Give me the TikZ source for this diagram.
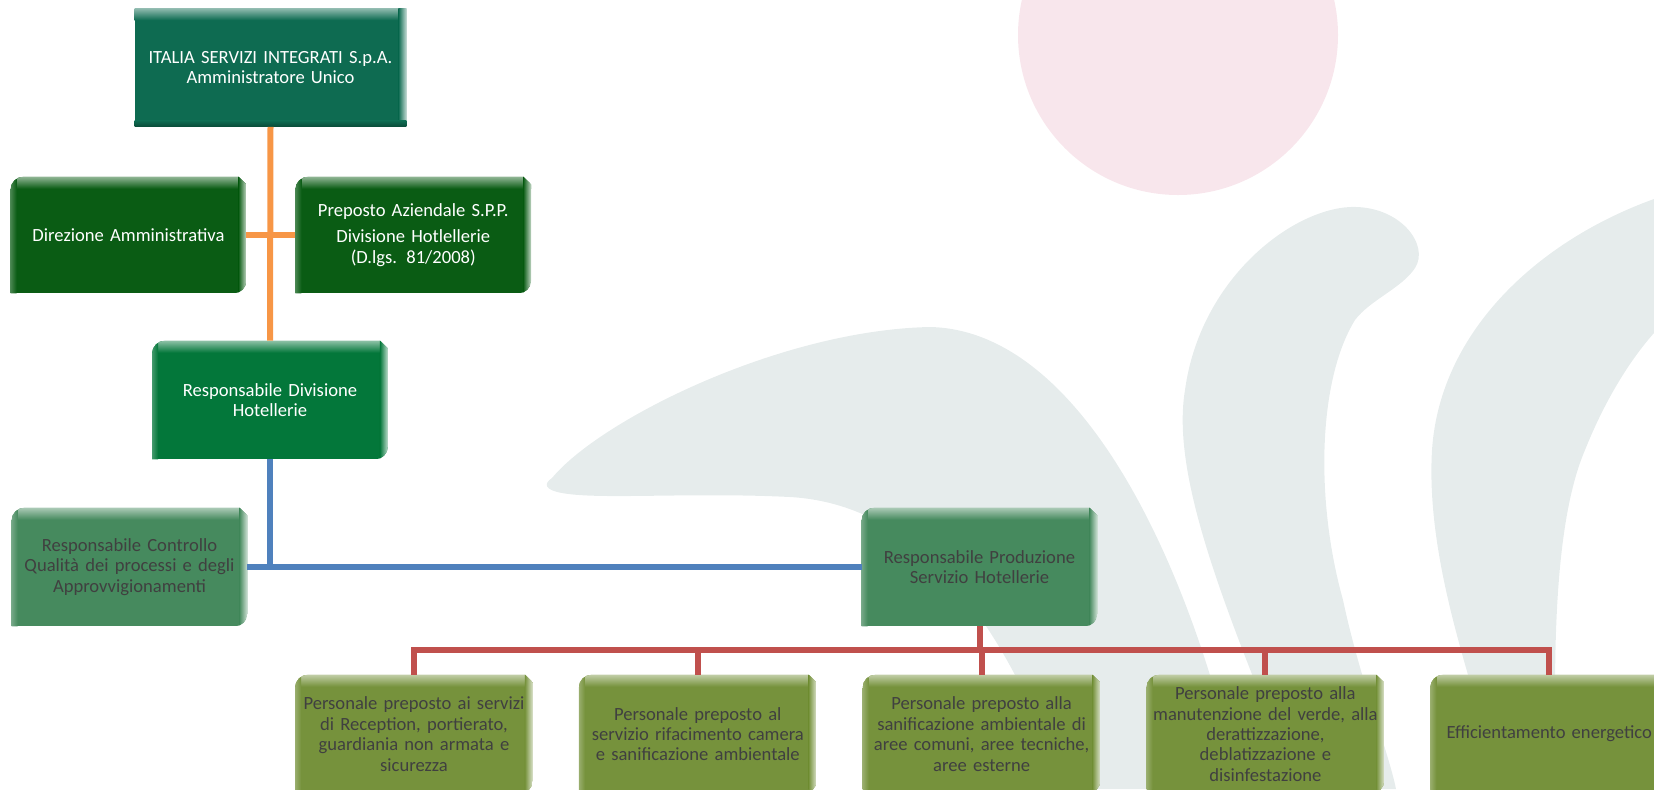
\documentclass[tikz,border=0pt]{standalone}
\usepackage{fontspec}
\setmainfont{Carlito}
\usetikzlibrary{positioning}
\pgfdeclarelayer{mark}
\pgfdeclarelayer{boxes}
\pgfsetlayers{mark,boxes,main}
\definecolor{topteal}{HTML}{0E6B51}
\definecolor{darkgrn}{HTML}{0A5C14}
\definecolor{midgrn}{HTML}{03773A}
\definecolor{palegrn}{HTML}{468A5E}
\definecolor{olivegrn}{HTML}{76923C}
\definecolor{linkorange}{HTML}{F79646}
\definecolor{linkblue}{HTML}{4F81BD}
\definecolor{linkred}{HTML}{C0504D}
\definecolor{wmgrey}{HTML}{E6ECEC}
\definecolor{wmpink}{HTML}{F8E6EC}
\definecolor{boxtext}{HTML}{404040}

\begin{document}
\begin{tikzpicture}[
    x=0.5pt, y=0.5pt,
    every node/.style={font=\fontsize{9.3}{10.2}\selectfont},
    box/.style={align=center, inner sep=2pt, minimum height=59pt, text width=113.5pt},
    light/.style={box, text=white},
    dark/.style={box, text=boxtext},
    orangelink/.style={linkorange, line width=3pt},
    bluelink/.style={linkblue, line width=3pt},
    redlink/.style={linkred, line width=3pt}
]
\useasboundingbox (0,0) rectangle (1654,-789);

\node[light, text width=131.5pt] (top) at (270.5,-67.5) {ITALIA SERVIZI INTEGRATI S.p.A.\\Amministratore Unico};
\node[light, minimum height=58pt] (dir) at (128.5,-235) {Direzione Amministrativa};
\node[light, minimum height=58pt, right=24.5pt of dir] (prep) {Preposto Aziendale S.P.P.\\[3pt]Divisione Hotlellerie\\(D.lgs. 81/2008)};
\node[light] (div) at (270,-400) {Responsabile Divisione\\Hotellerie};
\node[dark] (ctrl) at (129.5,-567) {Responsabile Controllo\\Qualità dei processi e degli\\Approvvigionamenti};
\node[dark] (prod) at (979.5,-567) {Responsabile Produzione\\Servizio Hotellerie};
\node[dark, text width=114.5pt] (p1) at (414,-734) {Personale preposto ai servizi\\di Reception, portierato,\\guardiania non armata e\\sicurezza};
\node[dark, text width=114.5pt, right=23pt of p1] (p2) {Personale preposto al\\servizio rifacimento camera\\e sanificazione ambientale};
\node[dark, text width=114.5pt, right=23pt of p2] (p3) {Personale preposto alla\\sanificazione ambientale di\\aree comuni, aree tecniche,\\aree esterne};
\node[dark, text width=114.5pt, right=23pt of p3] (p4) {Personale preposto alla\\manutenzione del verde, alla\\derattizzazione,\\deblatizzazione e\\disinfestazione};
\node[dark, text width=114.5pt, right=23pt of p4] (p5) {Efficientamento energetico};

\begin{pgfonlayer}{mark}
\fill[wmpink] (1178,-35) circle[radius=160];
\fill[wmgrey] (552,-478) .. controls (600,-420) and (780,-330) .. (930,-327)
    .. controls (1080,-330) and (1190,-560) .. (1240,-789) -- (1065,-789)
    .. controls (1010,-640) and (930,-505) .. (790,-497)
    .. controls (690,-492) and (600,-500) .. (562,-493)
    .. controls (545,-490) and (543,-484) .. (552,-478);
\fill[wmgrey] (1298,-789) .. controls (1230,-620) and (1170,-480) .. (1185,-390)
    .. controls (1200,-280) and (1290,-210) .. (1350,-207)
    .. controls (1400,-205) and (1430,-245) .. (1415,-268)
    .. controls (1402,-288) and (1370,-300) .. (1355,-320)
    .. controls (1318,-380) and (1315,-500) .. (1343,-600)
    .. controls (1360,-680) and (1388,-750) .. (1396,-789) -- cycle;
\fill[wmgrey] (1654,-199) .. controls (1540,-240) and (1440,-330) .. (1432,-450)
    .. controls (1425,-570) and (1480,-700) .. (1500,-789) -- (1557,-789)
    .. controls (1552,-650) and (1555,-520) .. (1585,-450)
    .. controls (1605,-400) and (1630,-360) .. (1654,-333) -- cycle;
\end{pgfonlayer}

\begin{pgfonlayer}{boxes}
\begin{scope}
\clip (top.south west) rectangle (top.north east);
\fill[topteal] (top.south west) rectangle (top.north east);
\shade[top color=topteal!45!white, bottom color=topteal] (top.north west) rectangle ([yshift=-6pt]top.north east);
\shade[left color=topteal, right color=topteal!25!white] ([xshift=-4pt]top.south east) rectangle (top.north east);
\shade[top color=topteal, bottom color=topteal!70!black] ([yshift=3pt]top.south west) rectangle (top.south east);
\end{scope}
\foreach \n/\col in {dir/darkgrn, prep/darkgrn, div/midgrn, ctrl/palegrn, prod/palegrn,
    p1/olivegrn, p2/olivegrn, p3/olivegrn, p4/olivegrn, p5/olivegrn} {
  \begin{scope}
  \clip (\n.south west) -- ([yshift=-6.5pt]\n.north west) arc[start angle=180, end angle=90, radius=6.5pt]
      -- ([xshift=-4pt]\n.north east) -- ([yshift=-4pt]\n.north east)
      -- ([yshift=6.5pt]\n.south east) arc[start angle=0, end angle=-90, radius=6.5pt] -- cycle;
  \fill[\col] (\n.south west) rectangle (\n.north east);
  \shade[top color=\col!45!white, bottom color=\col] (\n.north west) rectangle ([yshift=-6pt]\n.north east);
  \shade[left color=\col, right color=\col!25!white] ([xshift=-4pt]\n.south east) rectangle (\n.north east);
  \shade[left color=\col!75!white, right color=\col] (\n.south west) rectangle ([xshift=3pt]\n.north west);
  \end{scope}
}
\end{pgfonlayer}

\draw[orangelink] (top.south) -- (div.north);
\draw[orangelink] (dir.east) -- (prep.west);
\draw[bluelink] (div.south) |- (ctrl.east);
\draw[bluelink] (div.south) |- (prod.west);
\coordinate (bus) at ([yshift=-12pt]prod.south);
\draw[redlink] (prod.south) -- (bus);
\foreach \p in {p1,p2,p3,p4,p5}
  \draw[redlink] (bus) -| (\p.north);
\end{tikzpicture}
\end{document}
